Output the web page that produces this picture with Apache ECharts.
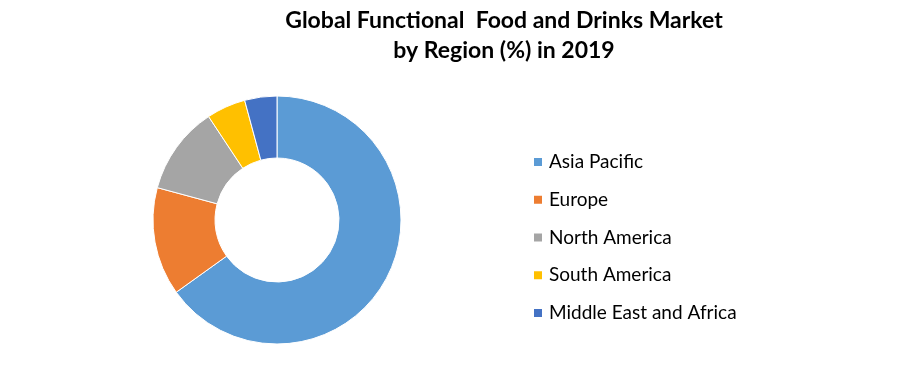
<!DOCTYPE html>
<html>
<head>
<meta charset="utf-8">
<script src="https://cdn.jsdelivr.net/npm/echarts@6/dist/echarts.min.js"></script>
<style>
html,body{margin:0;padding:0;background:#fff;}
#chart{width:897px;height:384px;}
</style>
</head>
<body>
<div id="chart"></div>
<script>
const categories = ["Asia Pacific", "Europe", "North America", "South America", "Middle East and Africa"];
const values = [65.1, 14.1, 11.5, 5.1, 4.2];
const colors = ["#5B9BD5", "#ED7D31", "#A5A5A5", "#FFC000", "#4472C4"];
const titleText = "Global Functional  Food and Drinks Market\nby Region (%) in 2019";

const chart = echarts.init(document.getElementById('chart'), null, {renderer: 'canvas'});
chart.setOption({
  animation: false,
  backgroundColor: '#ffffff',
  title: {
    text: titleText,
    left: 499,
    top: 1,
    textAlign: 'center',
    textStyle: {
      fontFamily: 'Lato',
      fontWeight: 'bold',
      fontSize: 23,
      lineHeight: 30,
      color: '#000000'
    }
  },
  legend: {
    orient: 'vertical',
    left: 532,
    top: 151,
    padding: 0,
    icon: 'rect',
    itemWidth: 10,
    itemHeight: 10,
    itemGap: 15.75,
    data: categories,
    textStyle: {
      fontFamily: 'Lato',
      fontSize: 19,
      lineHeight: 22,
      color: '#000000',
      padding: [0, 0, 0, 1]
    }
  },
  color: colors,
  series: [{
    type: 'pie',
    center: [277, 220],
    radius: [62, 124],
    startAngle: 90,
    clockwise: true,
    label: {show: false},
    labelLine: {show: false},
    itemStyle: {borderColor: '#ffffff', borderWidth: 1},
    emphasis: {disabled: true},
    data: categories.map((c, i) => ({name: c, value: values[i]}))
  }]
});
</script>
</body>
</html>
